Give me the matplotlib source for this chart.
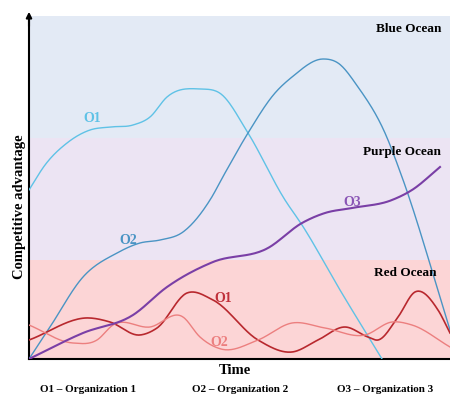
import numpy as np
import matplotlib
matplotlib.use('Agg')
from matplotlib import pyplot as plt

# values: time 0..421, advantage 0..343
o1_x = [0, 16, 38, 61, 81, 104, 121, 138, 171, 192, 219, 256, 273, 311, 353]
o1_y = [169, 194, 216, 229, 232, 234, 242, 262, 270, 265, 226, 159, 134, 69, 0]

o2_x = [0, 21, 54, 88, 111, 131, 154, 181, 196, 219, 246, 263, 294, 309, 329, 356, 373, 421]
o2_y = [0, 32, 82, 106, 116, 119, 127, 159, 186, 226, 266, 282, 300, 296, 272, 226, 182, 29]

o3_x = [0, 54, 104, 138, 184, 239, 273, 296, 323, 363, 383, 411]
o3_y = [0, 26, 44, 72, 97, 111, 136, 146, 151, 159, 169, 192]

r1_x = [0, 61, 81, 111, 128, 158, 184, 229, 263, 289, 316, 339, 349, 369, 386, 409, 421]
r1_y = [19, 41, 37, 24, 31, 66, 59, 19, 7, 19, 32, 22, 19, 42, 67, 49, 26]

r2_x = [0, 44, 68, 84, 121, 154, 171, 192, 229, 263, 296, 336, 363, 383, 421]
r2_y = [34, 16, 19, 34, 32, 42, 22, 10, 19, 36, 31, 24, 37, 34, 12]

bands = [(0, 99, '#fcd5d6'), (99, 221, '#ece4f3'), (221, 343, '#e3eaf5')]
band_labels = ['Red Ocean', 'Purple Ocean', 'Blue Ocean']
legend_text = ['O1 \u2013 Organization 1', 'O2 \u2013 Organization 2', 'O3 \u2013 Organization 3']


def smooth(xs, ys, n=25):
    # cubic hermite through the read points, only for a smooth stroke
    x = np.asarray(xs, float)
    y = np.asarray(ys, float)
    h = np.diff(x)
    d = np.diff(y) / h
    m = np.empty_like(y)
    m[0], m[-1] = d[0], d[-1]
    m[1:-1] = (d[:-1] * h[1:] + d[1:] * h[:-1]) / (h[:-1] + h[1:])
    px, py = [], []
    t = np.linspace(0, 1, n, endpoint=False)
    for i in range(len(x) - 1):
        h00 = 2 * t**3 - 3 * t**2 + 1
        h10 = t**3 - 2 * t**2 + t
        h01 = -2 * t**3 + 3 * t**2
        h11 = t**3 - t**2
        px.append(x[i] + t * h[i])
        py.append(h00 * y[i] + h10 * h[i] * m[i] + h01 * y[i + 1] + h11 * h[i] * m[i + 1])
    px.append([x[-1]])
    py.append([y[-1]])
    return np.concatenate(px), np.concatenate(py)


plt.rcParams['font.family'] = ['Liberation Serif', 'DejaVu Serif']
plt.rcParams['font.weight'] = 'bold'
plt.rcParams['axes.labelweight'] = 'bold'

fig = plt.figure(figsize=(4.5, 3.96), dpi=100)
ax = fig.add_axes([29 / 450, 37 / 396, 421 / 450, 343 / 396])
ax.set_xlim(0, 421)
ax.set_ylim(0, 343)

for lo, hi, c in bands:
    ax.axhspan(lo, hi, color=c, lw=0, zorder=0)

ax.plot(*smooth(o1_x, o1_y), color='#5fc2e6', lw=1.0, zorder=3)
ax.plot(*smooth(o2_x, o2_y), color='#4a94c4', lw=1.0, zorder=3)
ax.plot(*smooth(o3_x, o3_y), color='#7a3fa6', lw=1.5, zorder=4)
ax.plot(*smooth(r1_x, r1_y), color='#b8282e', lw=1.2, zorder=3)
ax.plot(*smooth(r2_x, r2_y), color='#ec7f7f', lw=1.0, zorder=3)

ax.text(63, 241, 'O1', color='#5fc2e6', fontsize=10, ha='center', va='center')
ax.text(99, 118, 'O2', color='#4a94c4', fontsize=10, ha='center', va='center')
ax.text(323, 156, 'O3', color='#8a55b5', fontsize=10, ha='center', va='center')
ax.text(194, 60, 'O1', color='#c0303a', fontsize=10, ha='center', va='center')
ax.text(190, 17, 'O2', color='#ec7f7f', fontsize=10, ha='center', va='center')

ax.text(412, 330, band_labels[2], fontsize=9.5, ha='right', va='center')
ax.text(412, 207, band_labels[1], fontsize=9.5, ha='right', va='center')
ax.text(408, 86, band_labels[0], fontsize=9.5, ha='right', va='center')

for s in ['top', 'right']:
    ax.spines[s].set_visible(False)
ax.spines['left'].set_linewidth(1.5)
ax.spines['bottom'].set_linewidth(1.5)
ax.set_xticks([])
ax.set_yticks([])
ax.annotate('', xy=(0, 350), xytext=(0, 330), annotation_clip=False,
            arrowprops=dict(arrowstyle='-|>', color='black', lw=1.5, mutation_scale=8))

ax.set_xlabel('Time', fontsize=10.5, fontweight='bold')
ax.xaxis.set_label_coords(0.489, -0.014)
ax.set_ylabel('Competitive advantage', fontsize=10.5, fontweight='bold')
ax.yaxis.set_label_coords(-0.008, 0.443)

for xc, t in zip([88, 240, 385], legend_text):
    fig.text(xc / 450, 1 - 390 / 396, t, fontsize=8, ha='center', va='center')

fig.savefig('out.png', dpi=100)
